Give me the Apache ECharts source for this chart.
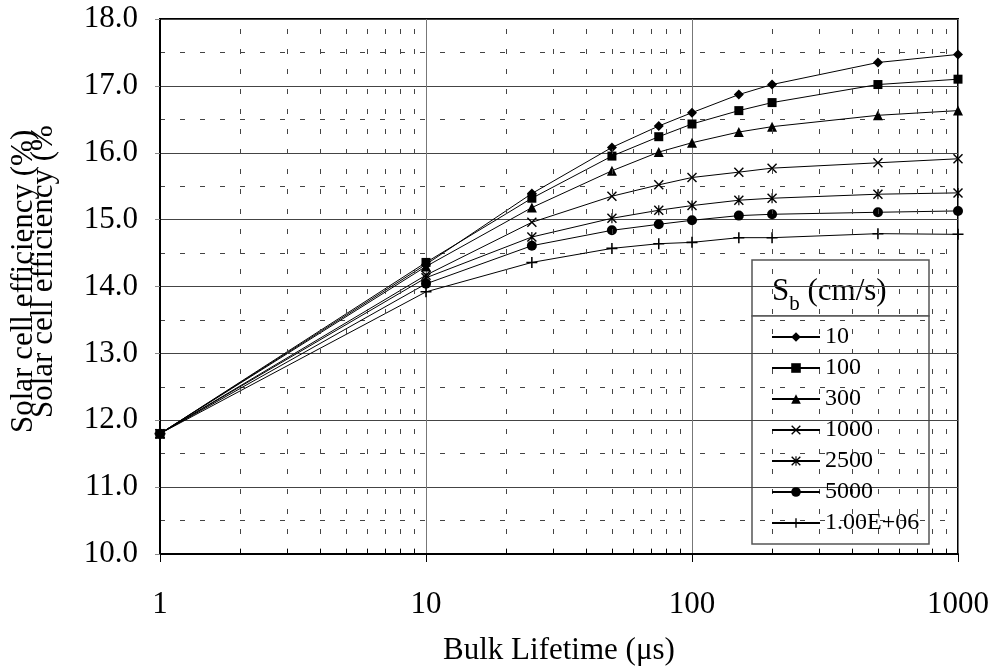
<html>
<head>
    <meta charset="utf-8">
    <script src="https://cdn.jsdelivr.net/npm/echarts@6/dist/echarts.min.js"></script>
    <title>Solar cell efficiency vs bulk lifetime</title>
</head>
<body style="margin:0">
    <div id="main" style="width: 993px;height: 671px;"></div>
    <script>
        // bulk lifetime (us)
        const lifetimes = [1, 10, 25, 50, 75, 100, 150, 200, 500, 1000];
        // efficiency (%) for each Sb (cm/s)
        const sb10 = [11.8, 14.33, 15.39, 16.08, 16.40, 16.60, 16.87, 17.02, 17.35, 17.47];
        const sb100 = [11.8, 14.36, 15.32, 15.95, 16.24, 16.43, 16.63, 16.75, 17.02, 17.10];
        const sb300 = [11.8, 14.30, 15.18, 15.73, 16.01, 16.15, 16.31, 16.39, 16.56, 16.63];
        const sb1000 = [11.8, 14.17, 14.96, 15.35, 15.52, 15.63, 15.71, 15.77, 15.85, 15.91];
        const sb2500 = [11.8, 14.13, 14.74, 15.02, 15.14, 15.21, 15.29, 15.32, 15.38, 15.40];
        const sb5000 = [11.8, 14.04, 14.61, 14.84, 14.93, 14.99, 15.06, 15.08, 15.11, 15.13];
        const sb1e6 = [11.8, 13.92, 14.36, 14.57, 14.64, 14.66, 14.73, 14.73, 14.79, 14.78];
        const seriesNames = ['10', '100', '300', '1000', '2500', '5000', '1.00E+06'];
        const minorX = [2, 3, 4, 5, 6, 7, 8, 9, 20, 30, 40, 50, 60, 70, 80, 90, 200, 300, 400, 500, 600, 700, 800, 900];

        const FONT = 'Liberation Serif';
        const crossPath = 'path://M0,1 L1,0 L5,4 L9,0 L10,1 L6,5 L10,9 L9,10 L5,6 L1,10 L0,9 L4,5 Z';
        const plusPath = 'path://M4.3,0 H5.7 V4.3 H10 V5.7 H5.7 V10 H4.3 V5.7 H0 V4.3 H4.3 Z';
        const starPath = 'path://M0,1 L1,0 L5,4 L9,0 L10,1 L6,5 L10,9 L9,10 L5,6 L1,10 L0,9 L4,5 Z M4.4,0 H5.6 V10 H4.4 Z';

        const allData = [sb10, sb100, sb300, sb1000, sb2500, sb5000, sb1e6];
        const symbols = ['diamond', 'rect', 'triangle', crossPath, starPath, 'circle', plusPath];
        const sizes = [10, 9, 10, 10, 10, 10, 11];

        const series = allData.map((vals, i) => ({
            name: seriesNames[i],
            type: 'line',
            data: lifetimes.map((t, j) => [t, vals[j]]),
            symbol: symbols[i],
            symbolSize: sizes[i],
            showAllSymbol: true,
            lineStyle: { color: '#000', width: 1 },
            itemStyle: { color: '#000' },
            z: 2
        }));

        // dashed minor verticals and small ticks along the bottom, drawn through the axis scale
        series.push({
            name: 'minorGrid',
            type: 'line',
            data: [],
            z: 1,
            markLine: {
                silent: true,
                symbol: 'none',
                label: { show: false },
                lineStyle: { color: '#444', width: 1, type: [5, 15] },
                data: minorX.map(v => ({ xAxis: v }))
            }
        });
        series.push({
            name: 'minorTicks',
            type: 'line',
            data: [],
            z: 1,
            markLine: {
                silent: true,
                symbol: 'none',
                label: { show: false },
                lineStyle: { color: '#000', width: 1, type: 'solid' },
                data: minorX.map(v => [{ coord: [v, 10] }, { coord: [v, 10.08] }])
            }
        });

        var myChart = echarts.init(document.getElementById('main'));
        myChart.setOption({
            backgroundColor: '#FFFFFF',
            animation: false,
            textStyle: { fontFamily: FONT },
            grid: {
                left: 160, right: 35, top: 19, bottom: 117,
                show: true, borderColor: '#000', borderWidth: 2
            },
            xAxis: {
                type: 'log',
                logBase: 10,
                min: 1,
                max: 1000,
                name: 'Bulk Lifetime (μs)',
                nameLocation: 'middle',
                nameGap: 81,
                nameTextStyle: { fontSize: 31, color: '#000', fontFamily: FONT },
                axisLine: { lineStyle: { color: '#000', width: 2 } },
                axisTick: { show: true, length: 8, lineStyle: { color: '#000' } },
                axisLabel: {
                    fontSize: 31, color: '#000', fontFamily: FONT, margin: 35,
                    formatter: v => String(Math.round(v))
                },
                splitLine: { show: true, lineStyle: { color: '#777', width: 1 } }
            },
            yAxis: {
                type: 'value',
                min: 10,
                max: 18,
                interval: 1,
                axisLine: { show: true, lineStyle: { color: '#000', width: 2 } },
                axisTick: { show: true, length: 5, lineStyle: { color: '#888' } },
                axisLabel: {
                    fontSize: 31, color: '#000', fontFamily: FONT, margin: 22,
                    formatter: v => v.toFixed(1)
                },
                splitLine: { show: true, lineStyle: { color: '#444', width: 1 } },
                minorTick: { show: false, splitNumber: 2 },
                minorSplitLine: { show: true, lineStyle: { color: '#444', width: 1, type: [5, 15] } }
            },
            legend: {
                data: seriesNames,
                orient: 'vertical',
                left: 771,
                top: 325,
                padding: 0,
                itemWidth: 48,
                itemHeight: 12,
                itemGap: 7,
                textStyle: { fontSize: 24, lineHeight: 24, color: '#000', fontFamily: FONT },
                z: 20
            },
            graphic: {
                z: 10,
                elements: [
                    {
                        type: 'rect',
                        shape: { x: 752, y: 260, width: 177, height: 56 },
                        style: { fill: '#fff', stroke: '#555', lineWidth: 1.5 }
                    },
                    {
                        type: 'rect',
                        shape: { x: 752, y: 316, width: 177, height: 228 },
                        style: { fill: '#fff', stroke: '#555', lineWidth: 1.5 }
                    },
                    {
                        type: 'text', x: 772, y: 292,
                        style: {
                            text: '{a|S}{b|b}{a| (cm/s)}',
                            verticalAlign: 'middle',
                            rich: {
                                a: { fontSize: 31, fontFamily: FONT, fill: '#000', lineHeight: 34 },
                                b: { fontSize: 21, fontFamily: FONT, fill: '#000', verticalAlign: 'bottom', lineHeight: 34, padding: [0, 0, -6, 0] }
                            }
                        }
                    },
                    {
                        type: 'text', x: 24, y: 433, rotation: Math.PI / 2,
                        style: {
                            text: 'Solar cell efficiency (%)', fontSize: 31, fontFamily: FONT,
                            fill: '#000', align: 'left', verticalAlign: 'middle'
                        }
                    },
                    {
                        type: 'text', x: 44, y: 418, rotation: Math.PI / 2,
                        style: {
                            text: 'Solar cell efficiency (%', fontSize: 31, fontFamily: FONT,
                            fill: '#000', align: 'left', verticalAlign: 'middle'
                        }
                    }
                ]
            },
            series: series
        });
    </script>
</body>
</html>
